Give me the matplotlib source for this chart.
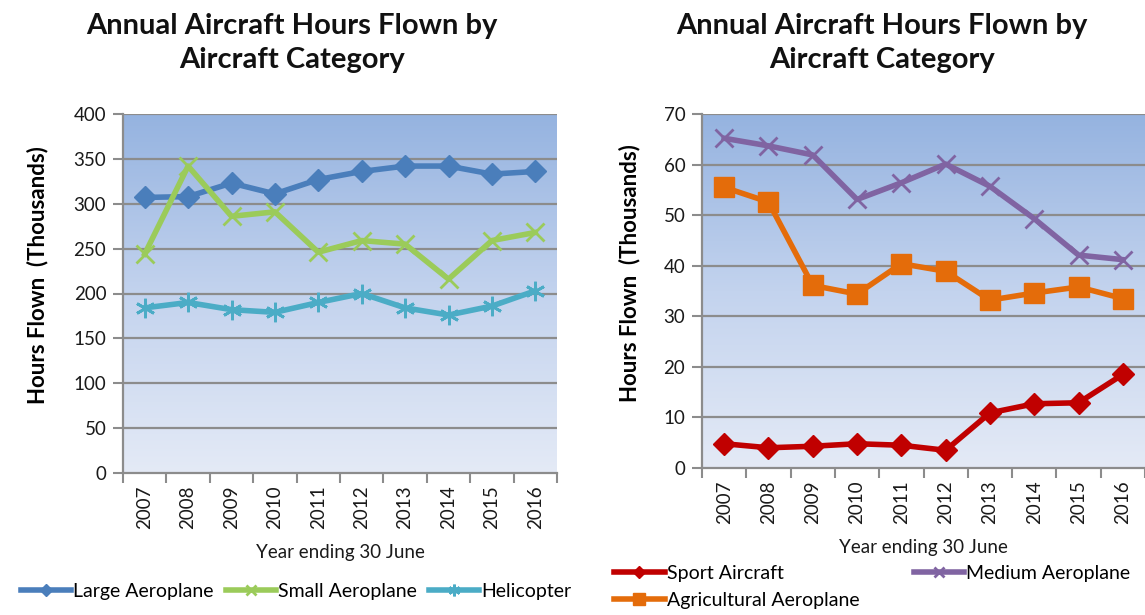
import matplotlib
matplotlib.use("Agg")
import matplotlib.pyplot as plt
import numpy as np
from matplotlib import font_manager
from matplotlib.colors import LinearSegmentedColormap

avail = {f.name for f in font_manager.fontManager.ttflist}
def pick(*names):
    for n in names:
        if n in avail:
            return n
    return "DejaVu Sans"

BODY = pick("Lato", "Open Sans", "DejaVu Sans")
TITLEF = pick("Lato", "Open Sans", "DejaVu Sans")

years = ["2007", "2008", "2009", "2010", "2011", "2012", "2013", "2014", "2015", "2016"]

large_aeroplane = [307, 308, 323, 311, 327, 336, 342, 342, 333, 336]
small_aeroplane = [244, 342, 286, 291, 246, 259, 255, 216, 259, 268]
helicopter = [184, 190, 182, 179, 190, 200, 184, 176, 186, 203]

sport_aircraft = [4.8, 4.0, 4.3, 4.8, 4.5, 3.5, 10.9, 12.7, 12.9, 18.5]
medium_aeroplane = [65.2, 63.7, 61.9, 53.1, 56.4, 60.1, 55.7, 49.3, 42.1, 41.2]
agricultural_aeroplane = [55.5, 52.6, 36.1, 34.4, 40.4, 38.9, 33.2, 34.6, 35.8, 33.5]

left_ticks = [0, 50, 100, 150, 200, 250, 300, 350, 400]
right_ticks = [0, 10, 20, 30, 40, 50, 60, 70]

title_text = "Annual Aircraft Hours Flown by\nAircraft Category"

W, H = 1145, 615
fig = plt.figure(figsize=(W / 100, H / 100), dpi=100)

GRID = "#8c8c8c"
TXT = "#1a1a1a"

def style_axes(ax, yticks, ylabel_x, xlabel_y):
    n = len(years)
    x = np.arange(n)
    ax.set_xlim(-0.5, n - 0.5)
    ax.set_ylim(yticks[0], yticks[-1])
    grad = np.linspace(0, 1, 256).reshape(-1, 1)
    cmap = LinearSegmentedColormap.from_list("bg", ["#e4eaf6", "#c3d3ee", "#95b3e0"])
    ax.imshow(grad, aspect="auto", cmap=cmap, origin="lower",
              extent=(-0.5, n - 0.5, yticks[0], yticks[-1]), zorder=0)
    ax.set_yticks(yticks)
    ax.set_yticklabels([str(t) for t in yticks], fontsize=13.5, family=BODY, color=TXT)
    ax.set_xticks(x)
    ax.set_xticklabels(years, rotation=90, fontsize=13.5, family=BODY, color=TXT)
    ax.tick_params(axis="x", which="major", length=0, pad=9)
    ax.set_xticks(np.arange(-0.5, n, 1), minor=True)
    ax.tick_params(axis="x", which="minor", length=7, width=1.5, color=GRID)
    ax.tick_params(axis="y", length=7, width=1.5, color=GRID, pad=5)
    for t in yticks[1:]:
        ax.axhline(t, color=GRID, lw=1.6, zorder=1)
    for s in ["top", "right"]:
        ax.spines[s].set_visible(False)
    for s in ["left", "bottom"]:
        ax.spines[s].set_color(GRID)
        ax.spines[s].set_linewidth(1.6)
    ax.set_ylabel("Hours Flown  (Thousands)", fontsize=16, fontweight="bold", family=TITLEF)
    ax.yaxis.set_label_coords(ylabel_x, 0.55)
    ax.set_xlabel("Year ending 30 June", fontsize=13.5, family=BODY, color=TXT)
    ax.xaxis.set_label_coords(0.5, xlabel_y)
    return x

# Left chart
axL = fig.add_axes([123 / W, 1 - 473 / H, (557 - 123) / W, (473 - 114) / H])
x = style_axes(axL, left_ticks, -0.172, -0.198)
axL.plot(x, large_aeroplane, color="#4a7ebb", lw=4, marker="D", ms=11, zorder=3, label="Large Aeroplane")
axL.plot(x, small_aeroplane, color="#9bcb5a", lw=4, marker="x", ms=13, mew=2, zorder=3, label="Small Aeroplane")
axL.plot(x, helicopter, color="#4bacc6", lw=4, marker=(6, 2, 0), ms=14, mew=2, zorder=3, label="Helicopter")

# Right chart
axR = fig.add_axes([702 / W, 1 - 468 / H, (1145 - 702) / W, (468 - 114) / H])
x = style_axes(axR, right_ticks, -0.14, -0.2015)
axR.plot(x, sport_aircraft, color="#c00000", lw=4, marker="D", ms=11, zorder=3, label="Sport Aircraft")
axR.plot(x, agricultural_aeroplane, color="#e46c0a", lw=4, marker="s", ms=14, zorder=3, label="Agricultural Aeroplane")
axR.plot(x, medium_aeroplane, color="#8064a2", lw=4, marker="x", ms=13, mew=2, zorder=3, label="Medium Aeroplane")

for cx in (292 / W, 882 / W):
    fig.text(cx, 1 - 43 / H, title_text, ha="center", va="center", fontsize=21,
             fontweight="bold", family=TITLEF, linespacing=1.35, color="#111111")

legL = fig.legend(*axL.get_legend_handles_labels(), loc="center left",
                  bbox_to_anchor=(0.003, 1 - 591 / H), ncol=3, frameon=False,
                  prop={"family": BODY, "size": 14}, handlelength=2.6, handletextpad=0.1,
                  columnspacing=0.6, markerscale=0.6)
h, l = axR.get_legend_handles_labels()
legR = fig.legend(h, l, loc="center left",
                  bbox_to_anchor=(0.521, 1 - 587 / H), ncol=2, frameon=False,
                  prop={"family": BODY, "size": 14}, handlelength=2.6, handletextpad=0.1,
                  columnspacing=2.8, labelspacing=0.5, markerscale=0.6)

fig.savefig("out.png", dpi=100)
